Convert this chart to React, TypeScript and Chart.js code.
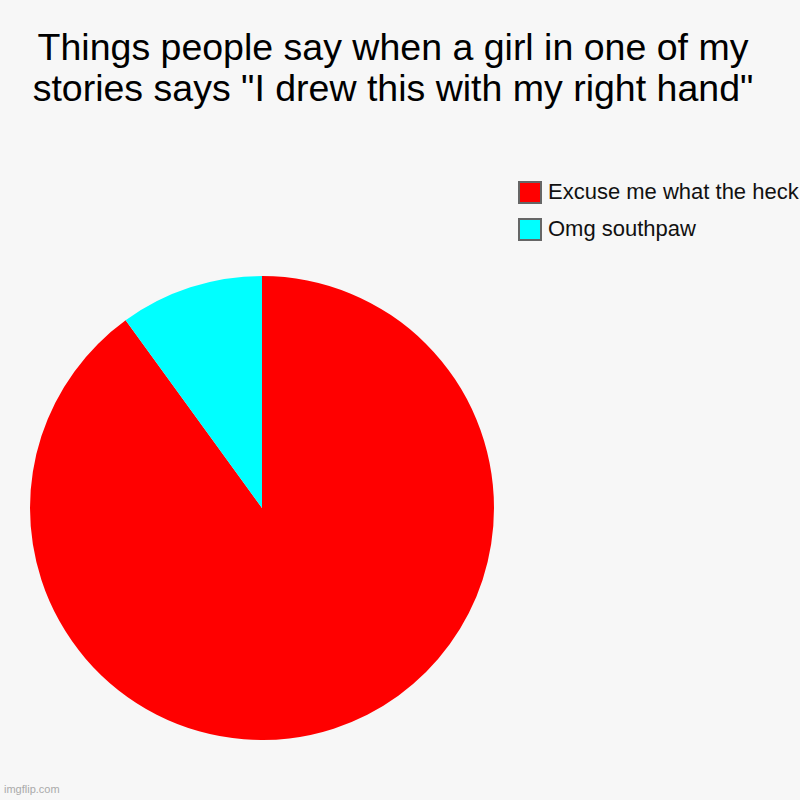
import React from 'react';
import { Chart, registerables } from 'chart.js';

Chart.register(...registerables);

// Chart data
const titleLines = [
  'Things people say when a girl in one of my',
  'stories says "I drew this with my right hand"',
];
const sliceLabels = ['Excuse me what the heck', 'Omg southpaw'];
const sliceValues = [90, 10];
const sliceColors = ['#ff0000', '#00ffff'];

const FONT = '"Liberation Sans", Arial, Helvetica, sans-serif';

const App: React.FC = () => {
  const chartRef = React.useRef<HTMLCanvasElement>(null);
  const chartInstance = React.useRef<Chart | null>(null);

  React.useEffect(() => {
    if (!chartRef.current) return;
    const ctx = chartRef.current.getContext('2d');
    if (!ctx) return;

    if (chartInstance.current) {
      chartInstance.current.destroy();
    }

    chartInstance.current = new Chart(ctx, {
      type: 'pie',
      data: {
        labels: sliceLabels,
        datasets: [
          {
            data: sliceValues,
            backgroundColor: sliceColors,
            borderWidth: 0,
          },
        ],
      },
      options: {
        responsive: true,
        maintainAspectRatio: false,
        animation: false,
        layout: { padding: 0 },
        plugins: {
          legend: { display: false },
          tooltip: { enabled: false },
        },
      },
    });

    return () => {
      if (chartInstance.current) {
        chartInstance.current.destroy();
        chartInstance.current = null;
      }
    };
  }, []);

  return (
    <div
      style={{
        position: 'absolute',
        left: 0,
        top: 0,
        width: 800,
        height: 800,
        background: '#f7f7f7',
        fontFamily: FONT,
        overflow: 'hidden',
      }}
    >
      {/* title */}
      <div
        style={{
          position: 'absolute',
          left: 0,
          top: 27,
          width: 786,
          textAlign: 'center',
          fontSize: 37.5,
          lineHeight: '41px',
          color: '#000',
          whiteSpace: 'nowrap',
        }}
      >
        {titleLines.map((line) => (
          <div key={line}>{line}</div>
        ))}
      </div>

      {/* legend */}
      <div style={{ position: 'absolute', left: 518, top: 174 }}>
        {sliceLabels.map((label, i) => (
          <div
            key={label}
            style={{
              display: 'flex',
              alignItems: 'center',
              height: 36.7,
              whiteSpace: 'nowrap',
            }}
          >
            <span
              style={{
                display: 'inline-block',
                width: 24,
                height: 23,
                boxSizing: 'border-box',
                border: '2px solid #666',
                background: sliceColors[i],
              }}
            />
            <span style={{ marginLeft: 6, fontSize: 22, color: '#111' }}>{label}</span>
          </div>
        ))}
      </div>

      {/* pie */}
      <div
        style={{
          position: 'absolute',
          left: 30,
          top: 275.5,
          width: 464,
          height: 464,
        }}
      >
        <canvas ref={chartRef} />
      </div>

      {/* watermark */}
      <div
        style={{
          position: 'absolute',
          left: 4,
          top: 783,
          fontSize: 11,
          color: '#aaa',
        }}
      >
        imgflip.com
      </div>
    </div>
  );
};

export default App;
